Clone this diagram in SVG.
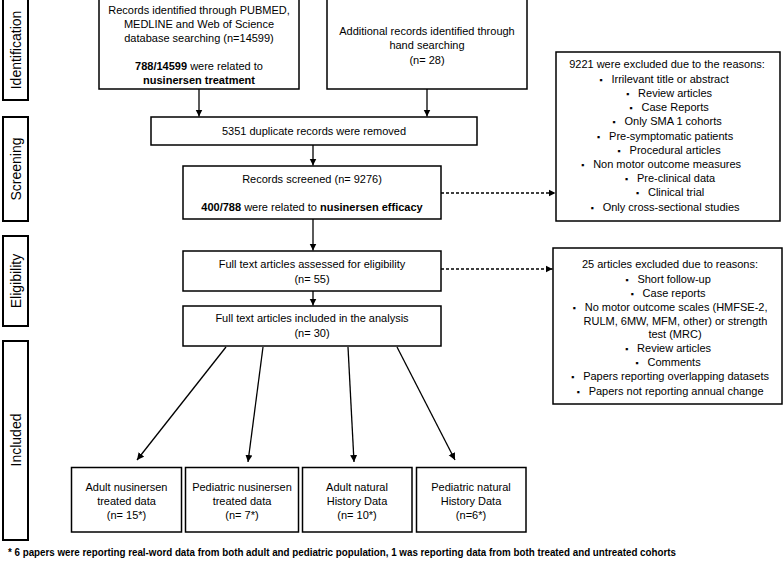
<svg xmlns="http://www.w3.org/2000/svg" width="784" height="561" viewBox="0 0 784 561">
<style>
.box{fill:#fff;stroke:#000;stroke-width:1.5}
.side{fill:#fff;stroke:#000;stroke-width:2}
text{font-family:"Liberation Sans",Arial,sans-serif;font-size:11px;fill:#000;text-anchor:middle}
.lbl{font-size:14px}
.b{font-weight:bold}
.bu{font-size:9px}
.con{stroke:#000;stroke-width:1.3;fill:none}
.dash{stroke-dasharray:3,2}
.foot{font-weight:bold;font-size:10px;text-anchor:start}
</style>
<defs>
<marker id="ah" markerWidth="8" markerHeight="8" refX="7" refY="4" orient="auto" markerUnits="userSpaceOnUse">
<path d="M0,0.5 L7,4 L0,7.5 Z" fill="#000"/>
</marker>
</defs>
<rect width="784" height="561" fill="#fff"/>

<g id="phase-identification"><rect class="side" x="3" y="-3" width="25" height="103"/><text class="lbl" transform="translate(20.5,50) rotate(-90)">Identification</text></g>
<g id="phase-screening"><rect class="side" x="3" y="117" width="25" height="104"/><text class="lbl" transform="translate(20.5,169) rotate(-90)">Screening</text></g>
<g id="phase-eligibility"><rect class="side" x="3" y="236" width="25" height="90"/><text class="lbl" transform="translate(20.5,281) rotate(-90)">Eligibility</text></g>
<g id="phase-included"><rect class="side" x="3" y="341" width="25" height="199"/><text class="lbl" transform="translate(20.5,440) rotate(-90)">Included</text></g>

<g id="records-db"><rect class="box" x="99" y="-3" width="200" height="92"/>
<text x="199" y="14">Records identified through PUBMED,</text>
<text x="199" y="28">MEDLINE and Web of Science</text>
<text x="199" y="42">database searching (n=14599)</text>
<text x="199" y="70"><tspan class="b">788/14599</tspan> were related to</text>
<text x="199" y="84" class="b">nusinersen treatment</text></g>

<g id="records-hand"><rect class="box" x="327" y="-3" width="200" height="92"/>
<text x="427" y="35">Additional records identified through</text>
<text x="427" y="49">hand searching</text>
<text x="427" y="64">(n= 28)</text></g>

<g id="duplicates"><rect class="box" x="151" y="117" width="326" height="28"/>
<text x="314" y="135">5351 duplicate records were removed</text></g>

<g id="screened"><rect class="box" x="183" y="166" width="258" height="53"/>
<text x="312" y="183">Records screened  (n= 9276)</text>
<text x="312" y="210.5"><tspan class="b">400/788</tspan> were related to <tspan class="b">nusinersen efficacy</tspan></text></g>

<g id="excluded-screening"><rect class="box" x="556" y="52" width="224" height="169"/>
<text x="667" y="68">9221 were excluded due to the reasons:</text>
<text x="664" y="82.5"><tspan class="bu">▪</tspan><tspan dx="9">Irrilevant title or abstract</tspan></text>
<text x="669" y="96.5"><tspan class="bu">▪</tspan><tspan dx="9">Review articles</tspan></text>
<text x="669" y="111"><tspan class="bu">▪</tspan><tspan dx="9">Case Reports</tspan></text>
<text x="667" y="125"><tspan class="bu">▪</tspan><tspan dx="9">Only SMA 1 cohorts</tspan></text>
<text x="665" y="139.5"><tspan class="bu">▪</tspan><tspan dx="9">Pre-symptomatic patients</tspan></text>
<text x="669" y="153.5"><tspan class="bu">▪</tspan><tspan dx="9">Procedural articles</tspan></text>
<text x="661" y="167.5"><tspan class="bu">▪</tspan><tspan dx="9">Non motor outcome measures</tspan></text>
<text x="670" y="182"><tspan class="bu">▪</tspan><tspan dx="9">Pre-clinical data</tspan></text>
<text x="670" y="196"><tspan class="bu">▪</tspan><tspan dx="9">Clinical trial</tspan></text>
<text x="665" y="210.5"><tspan class="bu">▪</tspan><tspan dx="9">Only cross-sectional studies</tspan></text></g>

<g id="eligibility"><rect class="box" x="183" y="251" width="258" height="40"/>
<text x="312" y="268">Full text articles assessed for eligibility</text>
<text x="312" y="283">(n= 55)</text></g>

<g id="excluded-eligibility"><rect class="box" x="553" y="248" width="229" height="156"/>
<text x="670" y="268.3">25 articles excluded due to reasons:</text>
<text x="668" y="282.5"><tspan class="bu">▪</tspan><tspan dx="9">Short follow-up</tspan></text>
<text x="668" y="296.7"><tspan class="bu">▪</tspan><tspan dx="9">Case reports</tspan></text>
<text x="670" y="310.9"><tspan class="bu">▪</tspan><tspan dx="9">No motor outcome scales (HMFSE-2,</tspan></text>
<text x="675.5" y="324.5">RULM, 6MW, MFM, other) or strength</text>
<text x="675" y="338">test (MRC)</text>
<text x="668" y="352"><tspan class="bu">▪</tspan><tspan dx="9">Review articles</tspan></text>
<text x="668" y="366"><tspan class="bu">▪</tspan><tspan dx="9">Comments</tspan></text>
<text x="670" y="380"><tspan class="bu">▪</tspan><tspan dx="9">Papers reporting overlapping datasets</tspan></text>
<text x="670" y="394.5"><tspan class="bu">▪</tspan><tspan dx="9">Papers not reporting annual change</tspan></text></g>

<g id="included"><rect class="box" x="183" y="306" width="258" height="40"/>
<text x="312" y="322">Full text articles included in the analysis</text>
<text x="312" y="337">(n= 30)</text></g>

<g id="adult-treated"><rect class="box" x="71.5" y="467.5" width="110" height="64.5"/>
<text x="126.5" y="490.5">Adult nusinersen</text><text x="126.5" y="504.5">treated data</text><text x="126.5" y="519">(n= 15*)</text></g>
<g id="pediatric-treated"><rect class="box" x="185.5" y="467.5" width="113" height="64.5"/>
<text x="242" y="490.5">Pediatric nusinersen</text><text x="242" y="504.5">treated data</text><text x="242" y="519">(n= 7*)</text></g>
<g id="adult-natural"><rect class="box" x="302.5" y="467.5" width="109.5" height="64.5"/>
<text x="357" y="490.5">Adult natural</text><text x="357" y="504.5">History Data</text><text x="357" y="519">(n= 10*)</text></g>
<g id="pediatric-natural"><rect class="box" x="416.5" y="467.5" width="109.5" height="64.5"/>
<text x="471" y="490.5">Pediatric natural</text><text x="471" y="504.5">History Data</text><text x="471" y="519">(n=6*)</text></g>

<g id="connectors">
<line class="con" x1="199" y1="89" x2="199" y2="116.5" marker-end="url(#ah)"/>
<line class="con" x1="427" y1="89" x2="427" y2="116.5" marker-end="url(#ah)"/>
<line class="con" x1="313" y1="145" x2="313" y2="165.5" marker-end="url(#ah)"/>
<line class="con" x1="313" y1="219" x2="313" y2="250.5" marker-end="url(#ah)"/>
<line class="con" x1="313" y1="291" x2="313" y2="305.5" marker-end="url(#ah)"/>
<line class="con dash" x1="441" y1="193" x2="555.5" y2="193" marker-end="url(#ah)"/>
<line class="con dash" x1="441" y1="269" x2="552.5" y2="269" marker-end="url(#ah)"/>
<line class="con" x1="226" y1="347" x2="137" y2="460" marker-end="url(#ah)"/>
<line class="con" x1="263" y1="347" x2="248" y2="462" marker-end="url(#ah)"/>
<line class="con" x1="348" y1="347" x2="354" y2="462" marker-end="url(#ah)"/>
<line class="con" x1="397" y1="347" x2="455" y2="460" marker-end="url(#ah)"/>
</g>

<text class="foot" x="8" y="556" textLength="668" lengthAdjust="spacingAndGlyphs">* 6 papers were reporting real-word data from both adult and pediatric population, 1 was reporting data from both treated and untreated cohorts</text>
</svg>
